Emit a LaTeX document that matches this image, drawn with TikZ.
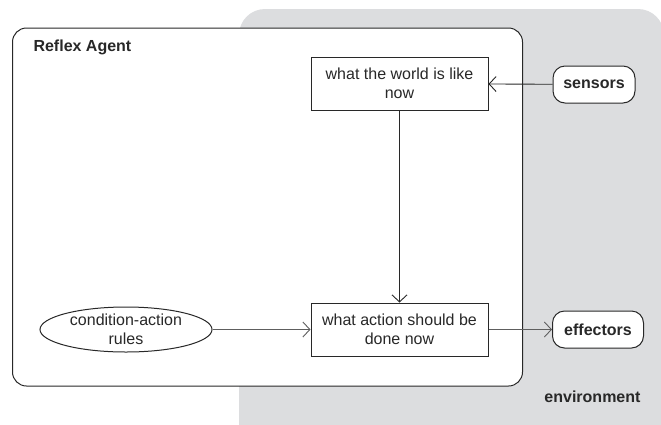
\documentclass[tikz,border=0pt]{standalone}
\usepackage{fontspec}
\setmainfont{Liberation Sans}
\usetikzlibrary{arrows.meta,shapes.geometric}
\definecolor{envgray}{RGB}{220,221,223}
\definecolor{ink}{RGB}{40,40,40}
\tikzset{
  every node/.style={font=\fontsize{16}{19}\selectfont, text=ink},
  frame/.style={draw=ink, line width=1pt},
  procbox/.style={frame, rectangle, fill=white, minimum width=177pt, minimum height=53pt, align=center, inner sep=0pt},
  rulebubble/.style={frame, ellipse, fill=white, minimum width=172pt, minimum height=45pt, align=center, inner sep=0pt},
  portbox/.style={frame, rounded corners=12pt, fill=white, minimum height=37pt, inner sep=0pt, font=\fontsize{16}{19}\selectfont\bfseries},
  flow/.style={draw=ink, line width=0.9pt, -{Straight Barb[length=7pt,width=15pt,line width=0.9pt]}},
  heavyflow/.style={flow, draw=ink!75, line width=1.3pt}
}
\begin{document}
\begin{tikzpicture}[x=1pt,y=-1pt]
  \useasboundingbox (0,0) rectangle (661,424);
  % environment backdrop
  \begin{scope}
    \clip (0,0) rectangle (661,424);
    \fill[envgray, rounded corners=26pt] (239,9) rectangle (664,460);
  \end{scope}
  % agent frame
  \draw[frame, fill=white, rounded corners=14pt] (12.5,28) rectangle (522.5,386);
  \node[anchor=base west, font=\fontsize{16}{19}\selectfont\bfseries] (title) at (30,51) {Reflex Agent};
  \node[anchor=base east, font=\fontsize{16}{19}\selectfont\bfseries] (envlabel) at (644,402) {environment};
  % components
  \node[procbox] (world) at (399.5,83.5) {what the world is like\\now};
  \node[procbox] (action) at (399.5,329.5) {what action should be\\done now};
  \node[rulebubble] (rules) at (126,329.5) {condition-action\\rules};
  \node[portbox, minimum width=82pt] (sensors) at (594,84.5) {sensors};
  \node[portbox, minimum width=91pt] (effectors) at (598,329.5) {effectors};
  % connectors
  \draw[flow] (sensors) -- (world);
  \draw[flow] (world) -- (action);
  \draw[heavyflow] (rules) -- (action);
  \draw[heavyflow] (action) -- (effectors);
\end{tikzpicture}
\end{document}
